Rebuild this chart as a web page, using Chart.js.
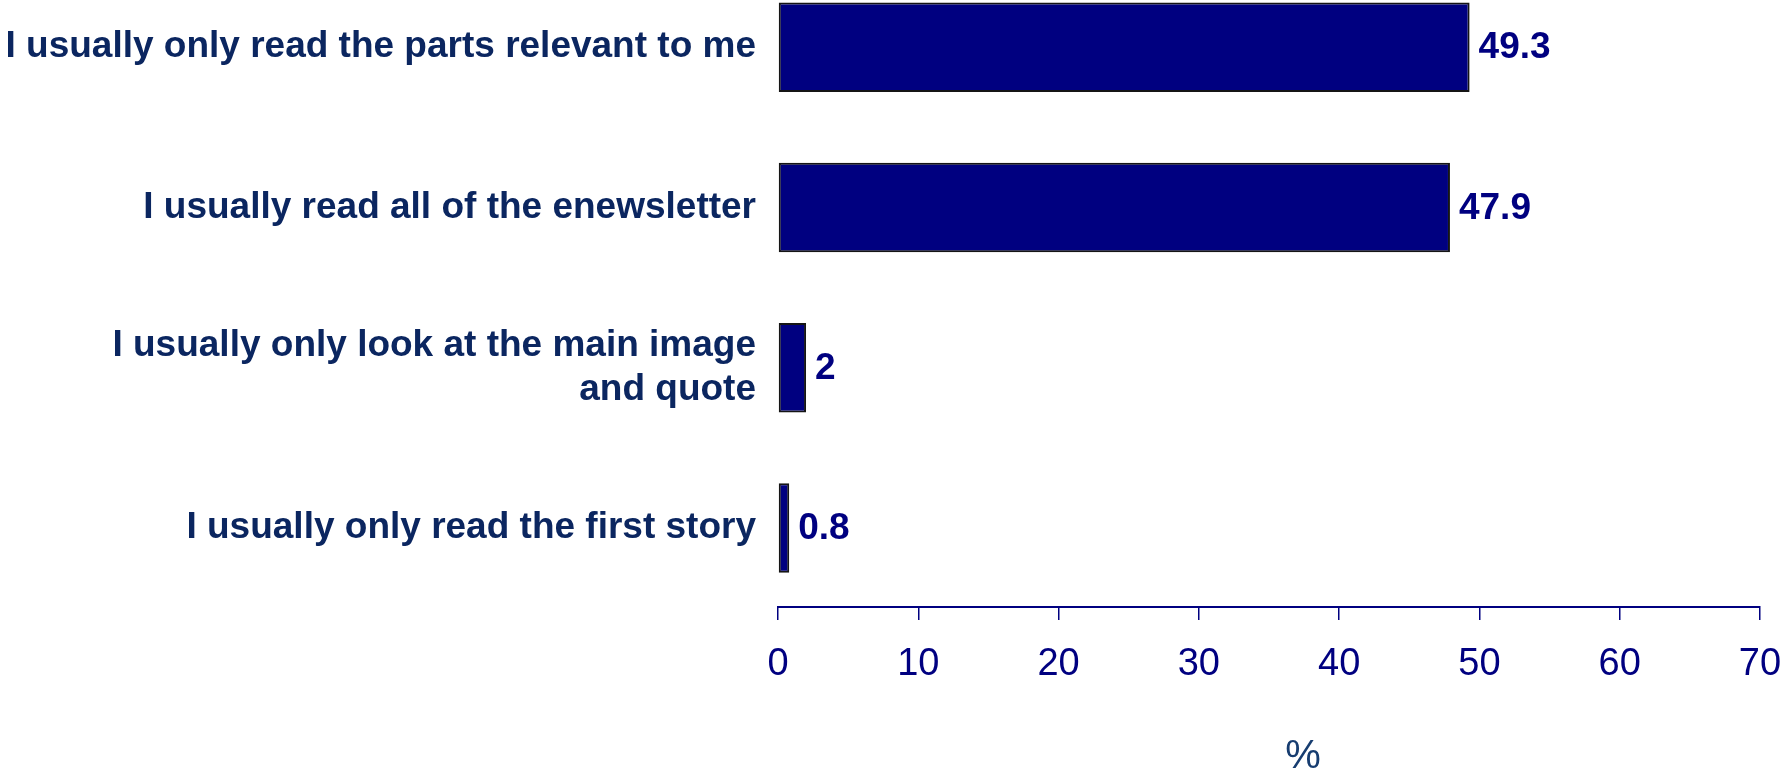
<!DOCTYPE html>
<html><head><meta charset="utf-8">
<script src="https://cdn.jsdelivr.net/npm/chart.js@4.4.0/dist/chart.umd.min.js"></script>
<style>html,body{margin:0;padding:0;background:#fff;overflow:hidden}#wrap{width:1780px;height:773px;position:relative}</style>
</head><body><div id="wrap"><canvas id="c"></canvas></div>
<script>
const categories = [
  ["I usually only read the parts relevant to me"],
  ["I usually read all of the enewsletter"],
  ["I usually only look at the main image", "and quote"],
  ["I usually only read the first story"]
];
const values = [49.3, 47.9, 2, 0.8];
const valueLabels = ["49.3", "47.9", "2", "0.8"];
const xTicks = [0, 10, 20, 30, 40, 50, 60, 70];
const axisTitle = "%";

const FONT = "'Liberation Sans', Arial, sans-serif";

const valueLabelPlugin = {
  id: 'valueLabels',
  afterDatasetsDraw(chart) {
    const ctx = chart.ctx;
    const meta = chart.getDatasetMeta(0);
    ctx.save();
    ctx.font = "bold 37px " + FONT;
    ctx.fillStyle = "#000080";
    ctx.textAlign = "left";
    ctx.textBaseline = "middle";
    meta.data.forEach((bar, i) => {
      ctx.fillText(valueLabels[i], bar.x + 9, bar.y + 1);
    });
    ctx.restore();
  }
};

const titlePlugin = {
  id: 'pctTitle',
  afterDraw(chart) {
    const ctx = chart.ctx;
    const a = chart.chartArea;
    ctx.save();
    ctx.font = "40px " + FONT;
    ctx.fillStyle = "#173d70";
    ctx.textAlign = "center";
    ctx.textBaseline = "middle";
    ctx.fillText(axisTitle, (a.left + a.right) / 2 + 34, 757);
    ctx.restore();
  }
};

new Chart(document.getElementById('c'), {
  type: 'bar',
  data: {
    datasets: [{
      data: values.map((v, i) => ({ x: v, y: i })),
      backgroundColor: '#000080',
      borderColor: '#151515',
      borderWidth: 2,
      borderSkipped: false,
      categoryPercentage: 1,
      barPercentage: 0.5585
    }]
  },
  options: {
    indexAxis: 'y',
    responsive: true,
    maintainAspectRatio: false,
    animation: false,
    layout: { padding: 0 },
    plugins: { legend: { display: false }, tooltip: { enabled: false } },
    scales: {
      x: {
        type: 'linear',
        position: 'bottom',
        min: 0,
        max: 70,
        afterBuildTicks: s => { s.ticks = xTicks.map(v => ({ value: v })); },
        afterFit: s => { s.height = 166; s.paddingLeft = 0; s.paddingRight = 20; },
        grid: { display: true, drawOnChartArea: false, drawTicks: true, tickLength: 13, color: '#000080', lineWidth: 1.5 },
        border: { display: true, color: '#000080', width: 2 },
        ticks: { color: '#000080', font: { family: FONT, size: 38 }, padding: 22, maxRotation: 0 }
      },
      y: {
        type: 'linear',
        offset: false,
        min: -0.2945,
        max: 3.493,
        reverse: true,
        afterBuildTicks: s => { s.ticks = categories.map((c, i) => ({ value: i })); },
        afterFit: s => { s.width = 778; s.paddingTop = 0; s.paddingBottom = 0; },
        grid: { display: false, drawTicks: false, offset: false },
        border: { display: false },
        ticks: {
          autoSkip: false,
          color: '#0b2660',
          font: { family: FONT, size: 37, weight: 'bold', lineHeight: 1.2 },
          padding: 22,
          callback: v => categories[v]
        }
      }
    }
  },
  plugins: [valueLabelPlugin, titlePlugin]
});
</script>
</body></html>
